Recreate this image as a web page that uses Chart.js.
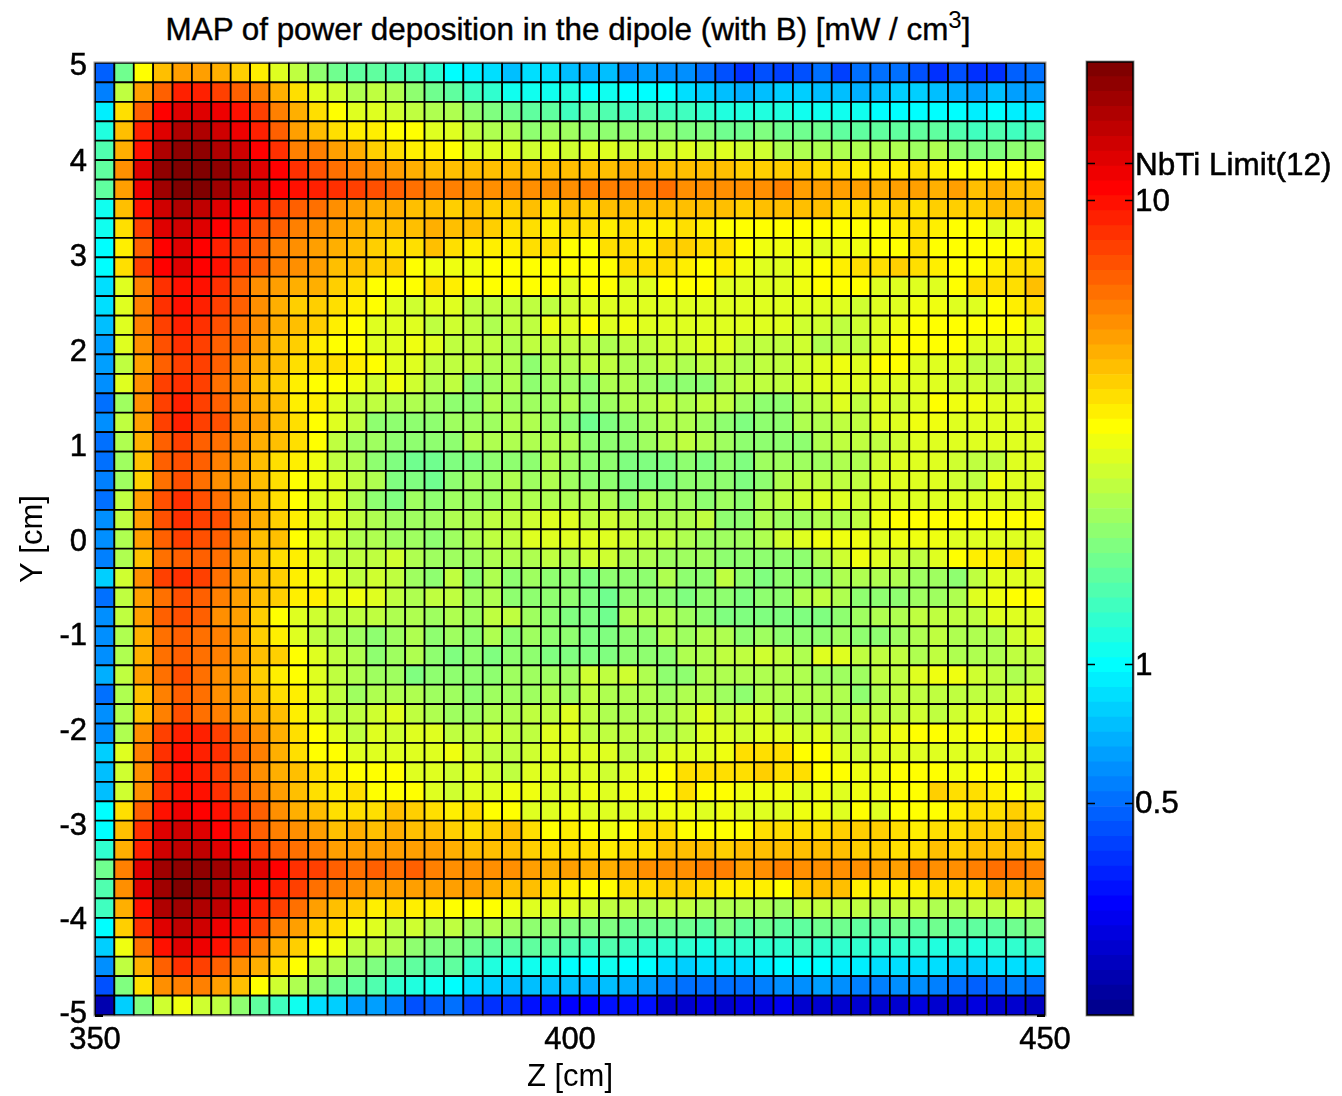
<!DOCTYPE html>
<html>
<head>
<meta charset="utf-8">
<title>MAP of power deposition</title>
<script src="https://cdn.jsdelivr.net/npm/chart.js@4"></script>
<style>
    body { margin: 0; background: #fff; width: 1342px; height: 1096px; overflow: hidden; position: relative; }
    canvas { position: absolute; top: 0; left: 0; }
    .holder { position: absolute; top: 0; height: 1096px; }
    #title { position: absolute; left: 0; width: 1136px; top: 12px; text-align: center; color: #000;
             font: 31.4px "Liberation Sans", Arial, sans-serif; white-space: nowrap; -webkit-text-stroke: 0.4px #000; }
    #title sup { font-size: 24px; line-height: 0; vertical-align: 12px; -webkit-text-stroke: 0; }
</style>
</head>
<body>
<div id="title">MAP of power deposition in the dipole (with B) [mW / cm<sup>3</sup>]</div>
<div class="holder" style="left:0;width:1342px">
    <canvas id="mapCanvas"></canvas>
</div>
<div class="holder" style="left:1040px;width:302px">
    <canvas id="barCanvas"></canvas>
</div>
<script>
// axis ticks
const zTicks = [350, 400, 450];
const yTicks = [-5, -4, -3, -2, -1, 0, 1, 2, 3, 4, 5];
const colorbarTicks = [0.5, 1, 10, 12];
const colorbarLabels = ['0.5', '1', '10', 'NbTi Limit(12)'];

// colorbar band edges, mW / cm3 (log spaced in the original)
const bandEdges = [.175,.1884,.2029,.2184,.2352,.2532,.2727,.2936,.3161,.3404,.3665,.3946,.4249,.4574,.4925,.5303,.571,.6148,.662,.7127,.7674,.8263,.8896,.9578,1.031,1.11,1.196,1.287,1.386,1.492,1.607,1.73,1.863,2.006,2.16,2.325,2.504,2.696,2.902,3.125,3.365,3.623,3.901,4.2,4.522,4.869,5.243,5.645,6.078,6.544,7.046,7.586,8.168,8.795,9.47,10.2,10.98,11.82,12.73,13.7,14.76,15.89,17.11,18.42,19.8];

// power per cell, top row first, Z = 350 on the left
const row01 = [.47,1.7,3.2,4.3,5,5,4.6,4,3.5,2.8,2.4,2,1.7,1.55,1.55,1.4,1.4,1.2,1,.9,.83,.75,.83,.83,.75,.68,.72,.6,.65,.6,.58,.52,.43,.38,.43,.4,.43,.5,.42,.5,.52,.52,.45,.38,.43,.38,.38,.47,.52];
const row02 = [.55,2.4,5,7,9,9,8,7,5.8,4.6,3.7,2.8,2.6,2.2,2.4,2.2,1.9,1.7,1.6,1.35,1.2,1.05,1.1,1.1,1.15,1.02,1.05,.98,1.02,.98,.85,.78,.75,.68,.75,.78,.8,.75,.72,.68,.75,.78,.8,.75,.7,.65,.75,.65,.62];
const row03 = [.92,3.7,7,10.7,12.4,12.6,11.8,10,8,5.8,4.6,3.9,3.2,2.9,2.8,2.6,2.4,2.2,2.3,1.9,1.75,1.65,1.55,1.5,1.35,1.5,1.45,1.35,1.4,1.35,1.3,1.2,1.12,1.15,1.18,1.12,1.1,1.1,1.08,1.05,1.03,1.03,1.03,1.03,.97,.9,.98,.9,.9];
const row04 = [1.15,4.3,9,12.4,15,15,13,11.5,9,6.7,5.2,4.5,3.9,3.5,3.5,3.2,3.2,2.9,2.7,2.4,2.3,2.2,1.9,2.1,2.1,2,1.95,2,2,2,1.85,1.8,1.7,1.7,1.75,1.7,1.65,1.65,1.6,1.6,1.55,1.55,1.55,1.55,1.4,1.3,1.4,1.3,1.4];
const row05 = [1.4,4.8,10,15,17.5,17.5,15,13,10.7,8.5,6,5.7,5,4.6,4.1,3.9,3.6,3.6,3.2,2.9,2.9,2.7,2.6,2.7,2.6,2.7,2.7,2.6,2.6,2.6,2.7,2.6,2.75,2.55,2.6,2.3,2.25,2.3,2.2,2.2,2.25,2.2,2.1,2.2,2,1.85,1.8,2,1.95];
const row06 = [1.6,5.6,12.6,17.5,19,19,17.5,15,12.4,10.5,8.5,7.3,6.3,6,5.6,5,4.7,4.4,4.4,4.4,4.4,4.2,4.2,4.2,4.4,4.4,4.3,4.6,4.7,4.4,4.5,4.3,4.2,4.1,4.1,4,4,3.9,3.8,3.6,3.6,3.6,3.8,3.6,3.3,3.2,3.2,3.3,3.2];
const row07 = [1.6,5,11.8,16,18.8,19.4,16.5,14.4,12.6,10.8,9.8,9.2,8.4,7.8,7.2,6.6,6.1,6,5.7,5.4,5.3,5.5,5.6,5.5,5.6,5.8,5.8,6,6,6.1,5.6,5.5,5.5,5.6,5.6,5.7,5,5.2,5,4.9,4.8,5,5.2,4.7,5,4.4,4.8,4.5,4.4];
const row08 = [1.05,4.4,9.5,13.5,15,14.4,12.5,10.7,9.3,7.8,6.6,6.1,5.6,5,4.8,4.8,4.5,4.3,4.1,4.2,4,4.1,4.2,3.9,4.2,4,4.2,4.3,4.2,4.3,4.3,4.5,4.3,4.1,4.2,4.2,4.3,4.2,3.9,3.8,3.9,4,3.8,4,4.1,4,4.4,4.4,4.2];
const row09 = [1.05,3.9,8,12.4,13,12.4,10.7,9.3,7.2,6.8,6,5.4,5,4.6,4.3,4.5,4.2,4.6,4.2,4.3,4.1,3.9,3.9,3.6,3.7,3.8,3.6,3.7,3.6,3.6,3.7,3.5,3.3,3.3,3.2,3.3,3.3,3.2,3.2,3.3,3.2,3.5,3.7,3.5,3.2,3.2,2.9,3.1,3.1];
const row10 = [.98,3.6,7,10.7,12.4,10.7,9.2,7.9,6.6,6,5.6,5.2,4.8,4.4,4.1,3.9,3.7,4.2,3.9,3.5,3.6,3.5,3.7,3.9,3.3,3.2,3.7,3.7,3.6,4,4,3.7,3.8,3.2,3,3,3,2.9,3,3.1,3.3,3.3,3.8,3.2,3.2,3.3,3.3,3.2,3.6];
const row11 = [1.03,3.9,8,10.7,12.4,10.7,10,8,6.6,5.8,5.4,5,4.5,4.4,4,4,3.2,3.1,3,3,3.2,3.2,3.2,3.2,3.2,3.3,3.2,3.7,3.8,3.7,3.5,3.2,3.6,3.1,2.9,2.9,3,3.3,3.6,3.9,3.8,4,3.8,3.6,3.2,3.2,3.6,3.8,3.9];
const row12 = [.85,2.9,6,8.5,10,10,8.7,7,5.6,5,4.7,4.7,4,3.9,3.2,3.2,3.2,3.7,3.6,3.3,3.2,3.3,3.3,3.3,2.9,3.2,3.2,2.9,2.9,3.2,3.2,3.3,2.9,2.8,2.8,2.9,3.1,3.3,3.2,3.2,2.9,2.8,2.8,2.9,3.2,3.8,3.9,3.9,4.2];
const row13 = [.83,2.7,5.8,8.2,9.5,9,8,6.6,5.3,4.6,4.1,4,3.7,3.5,3.2,2.9,2.6,2.9,2.9,2.5,2.5,2.5,2.5,2.5,2.6,2.8,2.9,2.9,2.9,2.9,2.8,2.8,2.9,2.9,2.9,2.9,2.8,2.8,2.7,2.6,2.8,2.9,3.1,3.1,2.8,2.9,3.2,3.6,3.7];
const row14 = [.73,2.8,5.8,8,8.8,8.4,7.4,6.5,5.4,4.6,4.3,4,3.5,3.2,2.9,2.8,2.7,2.5,2.6,2.5,2.3,2.4,2.5,3,2.7,3.3,2.9,3,2.7,2.7,2.7,2.7,2.7,2.8,2.9,2.7,2.6,2.6,2.5,2.6,2.9,3,3.2,3.3,3.2,3.2,3.2,3.3,2.9];
const row15 = [.62,2.7,5.5,7.2,8.5,7.9,7,6.1,5,4.3,4,3.6,3.2,3.2,2.9,2.7,3,2.7,2.4,2.4,2.4,2.3,2.4,2.4,2.5,2.4,2.2,2.4,2.5,2.6,2.6,2.7,2.7,2.4,2.5,2.4,2.6,2.3,2.4,2.5,2.9,3.2,3.2,3.2,3.2,2.9,2.8,2.8,2.7];
const row16 = [.62,2.5,5.2,7,8,7.8,6.6,5.4,4.6,4.3,3.7,3.7,3.7,3.4,3.2,2.9,2.9,2.5,2.5,2.4,2.2,2.2,2,2.2,2.3,2.4,2.5,2.3,2.3,2.5,2.3,2.5,2.4,2.3,2.4,2.4,2.6,2.7,3.1,2.9,3.2,3.2,2.9,2.8,2.7,2.5,2.5,2.6,2.5];
const row17 = [.6,2.7,5.6,7.8,8.4,7.8,6.4,5.6,4.5,4.1,3.4,3.2,3.2,3,2.6,3,2.6,2.3,2.4,1.95,2.1,2.2,2,2.1,2.1,2,2.2,2.2,2.1,2,2,1.9,2.2,2.5,2.5,2.5,2.6,2.7,2.9,2.7,2.8,2.9,2.9,2.7,2.6,2.6,2.4,2.5,2.5];
const row18 = [.5,2.1,5.3,7.8,9,8,7,5.6,4.6,4.2,3.5,3.6,2.8,2.4,2.5,2.3,2.3,2.1,2,2,2.2,2.1,2.1,2.1,2.2,1.95,2.1,2.3,2.3,2.5,2.3,2.5,2.4,2.1,2,1.9,2.3,2.4,2.7,2.5,2.7,2.6,2.9,3.3,3,3,2.8,2.8,2.7];
const row19 = [.6,2.5,5.2,8,9,8,7.2,5.6,4.9,4.3,3.8,3.3,2.7,2.4,2,1.95,1.9,1.95,2.1,2.1,2.1,2.2,2.2,2.1,2,1.7,1.8,2,2.1,2.2,2.2,2.1,1.9,1.8,1.9,2,2.2,2.2,2.4,2.5,2.9,2.9,3,3,2.9,2.9,2.8,2.9,2.9];
const row20 = [.53,2.2,4.7,6.6,7.6,6.8,6.4,5.3,4.7,4.3,3.8,3.2,2.4,2.1,2.05,2,1.95,1.9,1.95,2.2,2.2,2.3,2.3,2.3,2.2,1.9,2,2,2.1,2.3,2.4,2.2,2.1,1.9,2,2,2,2.3,2.4,2.5,2.5,2.6,2.8,2.8,2.7,2.7,2.7,2.9,2.9];
const row21 = [.53,2.1,4.5,6.7,7.5,6.8,5.8,5.2,4.3,3.9,3.6,3,2.5,2.2,1.95,1.8,1.7,1.7,1.85,1.75,1.95,2,2,2.2,2.1,1.95,1.95,1.8,1.85,1.75,1.95,1.85,1.9,1.75,2.1,2.1,2.1,2.1,2.2,2.3,2.6,2.7,2.8,2.8,2.6,2.4,2.5,2.7,2.7];
const row22 = [.55,2.1,4,6.1,7.4,6.3,5.6,5,4.4,3.7,3.2,3,2.8,2.4,2.2,1.85,1.85,1.65,2,2.1,2.1,2.2,2.1,2.2,2.1,2,2,1.8,1.75,1.8,2,2,2,1.85,2,2.3,2.4,2.4,2.4,2.5,2.7,2.7,2.8,2.8,2.6,2.5,3.1,2.7,2.7];
const row23 = [.5,2.4,4.9,7.2,8.2,7.4,6.3,5.2,4.4,3.9,3.3,2.7,2.7,2.3,2,1.85,2.1,2,2.1,2.1,2.1,2.3,2.3,2.2,2.3,2.2,2.2,2,2.2,2.1,2.1,2,2.1,1.9,2.2,2.4,2.6,2.7,2.7,2.6,2.7,2.8,2.9,2.8,2.8,2.8,2.8,2.9,2.9];
const row24 = [.58,2.5,5,7.4,8.4,8,7.2,5.6,4.8,4.1,3.5,2.9,2.8,2.4,2.2,2.1,2.1,2.1,2.2,2.3,2.4,2.4,2.6,2.8,2.9,2.4,2.6,2.4,2.2,2.2,2.3,2.4,2,2,2.2,2.1,2.1,2.2,2.3,2.5,3.1,3.3,3.3,3.3,3.2,3.2,3.3,3.3,3.2];
const row25 = [.58,2.3,4.9,7,8,7.3,6.7,5.4,4.5,4.2,3.2,2.7,2.6,2.3,2.2,2.1,2.1,2,2.1,2.2,2.4,2.4,2.7,2.8,2.8,2.9,2.8,2.6,2.5,2.5,2.2,2.1,2.1,2.1,2.3,2.6,2.7,3,3,3,2.9,3,3.1,3.1,2.9,2.9,2.9,2.8,2.8];
const row26 = [.55,2.2,4.3,6.2,7,7,6.3,5.1,4.4,3.9,3.6,2.8,2.5,2.4,2.5,2.6,2.3,2.1,2.1,2.1,2.3,2.2,2.2,2.4,2.3,2.6,2.6,2.3,2.2,2.1,2.1,2.1,2,2,2,2,2,2.3,2.6,3,2.8,2.6,2.5,2.8,3.2,3.5,3.6,3.8,3];
const row27 = [.8,2.6,5.6,8,8.5,7.6,6.2,5.1,4.4,4,3.6,3,2.8,2.5,2.6,2.4,2.1,2,2.4,2,2.2,1.95,2.1,2,2,1.85,1.95,2,2,2.2,2,2,2.4,1.95,1.85,2,2,2,2.2,2.2,2.2,2.2,2.1,2.1,2,2.4,2.7,2.9,2.9];
const row28 = [.52,2.4,4.9,6.4,7.5,6.7,5.9,5,4.4,4,3.6,3.6,2.9,3,2.9,2.4,2.2,2.5,2.5,2.1,2.2,1.95,2,2,1.95,1.75,1.7,1.9,1.9,2,1.8,2,1.95,1.85,1.95,2,2.2,2.5,2.2,2,2,2,2.1,2.1,2.3,2.7,3,3.3,3.3];
const row29 = [.6,2.5,5.1,7,7.2,6.7,5.5,4.9,4.1,3.2,2.9,2.6,2.4,2.5,2.5,2.3,2.3,2.1,2.3,2.1,2.5,2.5,2.1,2,1.8,1.8,1.7,2.2,2.3,2.2,2.1,2,1.85,1.8,1.8,1.85,1.8,1.8,2,2.1,2.2,2.3,2.4,2.5,2.5,2.4,2.7,2.8,2.9];
const row30 = [.6,2.3,4.7,6.4,7,6.3,5.7,5,4.1,3.6,2.9,2.4,2.3,2.1,2,2.1,2.2,2,2.1,2,2.3,2,2.1,2,1.95,1.85,1.85,2,2,2.2,2.1,2.2,2.2,2,2.1,1.9,1.9,2,2.05,2,2,2.1,2.3,2.4,2.3,2.3,2.3,2.6,2.7];
const row31 = [.6,2.2,4.8,6.4,7,6.5,5.8,5.1,4.5,4.1,3.2,2.8,2.4,2.2,2,2.05,2.2,2,1.85,2,1.85,1.95,2,1.8,1.75,1.75,1.85,2,2,2,2.2,2.3,2.5,2.5,2.6,2.5,2.3,2.9,2.7,2.5,2.5,2.4,2.3,2.4,2.3,2.2,2.2,2.4,2.4];
const row32 = [.68,2.5,5,6.3,7.5,6.4,5.6,4.9,4.1,3.6,3.2,2.8,2.4,2.2,2.1,2.05,1.85,1.95,2,2,2,2.1,2.1,2.1,2.1,2.6,2.4,2.6,2.2,1.95,1.9,2.2,2.3,2.3,2.3,2.3,2.2,2.1,2.1,2.1,2.4,2.5,2.7,3,3.1,2.6,2.4,2.3,2.4];
const row33 = [.52,2.2,4.4,5.9,7,6.3,5.6,4.9,4.4,3.8,3.4,2.9,2.4,2.1,2.2,2.2,2.3,2.1,2.1,1.95,2.1,2.1,2.1,2.2,2.1,2.5,2.3,2.3,2.2,2.1,2.2,2.3,2.1,1.95,2.2,2.3,2.3,2.3,2.2,1.95,2.2,2.4,2.4,2.4,2.5,2.5,2.5,2.6,2.9];
const row34 = [.58,2.2,4.2,6,7.4,6.4,6,5.2,4.8,4.3,3.6,2.9,2.5,2.4,2.6,2.8,2.4,2.2,2.1,2.1,2.3,2.3,2.4,2.5,2.7,2.5,2.2,2.3,2.3,2.2,2.4,2.9,2.4,2.6,2.6,2.3,2.2,2.2,2.3,2.4,2.4,2.4,2.6,2.5,2.6,2.7,2.8,3,3.2];
const row35 = [.58,2.3,5.5,7.8,9.2,8.8,7.8,6.1,5.4,4.7,3.9,3.2,2.9,2.5,2.8,2.6,2.7,2.8,2.4,2.4,2.6,2.4,2.5,2.7,2.7,2.5,2.4,2.5,2.4,2.3,2.5,2.8,2.8,2.6,2.7,2.7,2.6,2.7,2.5,2.5,2.9,3.1,3.2,3.2,3,3.2,3.3,3.5,3.7];
const row36 = [.8,2.7,5.7,8.5,10,9.3,8.3,7,5.8,4.7,3.9,3.2,3.2,2.8,2.9,2.8,2.9,2.9,3,2.6,2.5,2.5,2.6,2.8,2.9,2.8,2.7,2.4,2.5,2.7,2.8,2.9,3,3.8,3.8,3.7,3.3,3.2,2.9,2.6,2.7,2.8,2.9,2.8,2.9,2.8,2.7,2.7,2.8];
const row37 = [.75,2.6,5.5,8.2,9.5,9.2,8,6.8,5.6,4.8,4.2,3.9,3.6,3.2,3.2,3.2,2.9,2.8,2.6,2.7,2.6,2.5,2.7,2.7,2.9,2.9,2.6,2.9,3,3.3,3.7,3.8,3.9,3.9,4.1,3.9,3.8,3.3,3.2,3,3,3.2,3.2,3.3,3.1,3.3,3.2,3,2.9];
const row38 = [.73,2.6,5.5,8.5,9.8,10,8.5,7,5.7,5,4.2,3.9,3.6,3.8,3.2,3.2,3.2,2.8,2.6,2.7,2.9,3,3,2.7,2.9,3,2.8,3,3.1,3.3,3.8,3.2,3.2,3,3,3,2.9,3,2.9,3,3,3.2,3.3,4,3.8,3.7,3.4,3.3,2.9];
const row39 = [.98,3.8,6.8,9.5,11.5,10.5,9.5,8.2,6.6,5.6,4.6,4.4,3.8,3.9,3.8,4.2,4.1,3.9,3.6,3.7,3.3,3.2,2.9,2.8,3,2.9,2.8,2.8,2.9,3,3.1,2.9,3,2.7,2.9,2.9,3,3,2.8,3.2,2.9,3.2,3.3,3.2,3.4,3.7,3.8,4,3.9];
const row40 = [.98,4.3,8.5,12.2,13.5,12.3,10.7,9.3,6.8,6,5.3,4.9,4.4,4.6,4.4,4.8,4.3,4.2,4,3.9,4,4.2,3.9,3.2,3.4,3.3,3.1,3.3,3.7,3.8,3.3,3.3,3.2,3.2,3.7,3.7,3.8,3.8,4.1,4.1,4.1,3.7,3.5,3.7,3.9,4.1,4,4.2,4.1];
const row41 = [1.2,4.8,9,13,14.7,14,12.4,10.7,8,7,6.2,5.7,5.1,5,5.1,5.1,4.9,4.9,4.7,4.4,4.3,4.4,4.1,3.8,3.8,3.7,3.6,3.8,3.9,4.2,4.3,4.2,4.1,4.2,4.3,4.4,4.3,4.4,4.3,4.1,4,3.8,3.8,4.5,4.1,4.2,4.4,4.2,4.1];
const row42 = [1.65,5.8,12,16.7,18.3,18.3,16,14.6,12.3,10.5,8.5,7.8,6.7,6.5,6.6,6.5,6.8,6,5.6,5.6,5.3,5.3,5.2,4.8,5,4.6,4.8,5.2,5.6,5.6,5.5,5.8,5.8,5,5.4,5.7,5.6,5.6,5.3,5.5,5.2,5.1,5.7,5.6,5.5,6,6.2,6.1,5.8];
const row43 = [1.4,5.5,12.4,16.5,19.4,18,15.5,12.2,10.7,9.4,7.8,6.4,5.8,5.3,4.9,5,5,4.9,5.1,4.9,4.8,4.5,4.3,3.8,3.6,3.2,3.2,3.8,3.8,4.1,4,3.7,3.4,3.5,3.4,3.3,4.1,4.2,4.2,3.6,3.5,3.6,3.6,3.8,3.9,3.8,4.6,4.5,4.7];
const row44 = [1.35,4.6,10,15,16.7,15.5,14,11.5,9,7.8,6.2,5,4.3,4,3.6,3.8,3.5,3.4,3.3,3.2,3.2,3,2.9,2.7,2.7,2.6,2.5,2.5,2.3,2.5,2.4,2.3,2.2,2.3,2.2,2.1,2.4,2.5,2.4,2.4,2.3,2.4,2.4,2.3,2.2,2.4,2.5,2.6,2.5];
const row45 = [.98,4.1,8.5,12.5,14.5,13,11.7,9.8,7.8,5.8,5,4.1,3.7,3.1,2.8,2.5,2.6,2.3,2.4,2.1,2.2,2.1,2,1.9,1.8,1.8,1.8,1.7,1.65,1.7,1.65,1.55,1.75,1.6,1.7,1.55,1.6,1.7,1.65,1.6,1.5,1.65,1.55,1.65,1.55,1.6,1.6,1.7,1.8];
const row46 = [.82,3,6.4,9.5,12,11.8,9.5,7.8,5.8,4.8,4,3.2,3,2.5,2.4,2.2,2,1.85,1.85,1.65,1.6,1.5,1.6,1.55,1.4,1.3,1.4,1.3,1.25,1.2,1.2,1.15,1.25,1.2,1.2,1.2,1.3,1.2,1.2,1.25,1.2,1.2,1.2,1.15,1.2,1.15,1.2,1.25,1.35];
const row47 = [.6,2.4,4.7,7,8.5,8.1,7,5.6,4.7,3.9,3.2,2.5,2.3,2,1.85,1.7,1.6,1.45,1.5,1.25,1.15,1.1,1.1,1.1,1,1.03,1.1,1,.97,.85,.78,.83,.87,.85,.9,.98,.98,1.02,.93,.92,.87,.85,.87,.87,.82,.8,.86,.88,.85];
const row48 = [.43,1.75,3.8,5.3,6,6,5.1,4.5,3.3,2.6,2.3,2,1.7,1.5,1.45,1.25,1.15,1.05,.98,.87,.78,.76,.72,.73,.72,.68,.72,.7,.66,.55,.53,.52,.53,.53,.55,.58,.58,.62,.6,.57,.56,.58,.59,.57,.52,.46,.52,.55,.5];
const row49 = [.215,.8,1.85,2.6,2.95,2.6,2.4,2,1.6,1.3,1.05,.85,.78,.65,.63,.57,.45,.49,.5,.42,.38,.38,.34,.33,.3,.3,.32,.34,.33,.25,.25,.26,.25,.26,.26,.28,.25,.25,.25,.25,.25,.25,.27,.25,.24,.26,.25,.24,.225];

const powerRows = [row01,row02,row03,row04,row05,row06,row07,row08,row09,row10,row11,row12,row13,row14,row15,row16,row17,row18,row19,row20,row21,row22,row23,row24,row25,row26,row27,row28,row29,row30,row31,row32,row33,row34,row35,row36,row37,row38,row39,row40,row41,row42,row43,row44,row45,row46,row47,row48,row49];

const FONT = '"Liberation Sans", Arial, sans-serif';
const tickFont = { family: FONT, size: 31 };

// matlab jet, 64 levels
function jet(i) {
    const tri = (up, down) => Math.max(0, Math.min(1, (i - up) / 16, (down - i) / 16));
    const c = v => Math.round(v * 255);
    return `rgb(${c(tri(23, 71))},${c(tri(7, 55))},${c(tri(-9, 39))})`;
}

function powerColor(v) {
    let i = 0;
    while (i < 63 && v >= bandEdges[i + 1]) i++;
    return jet(i);
}

// cell centres
const cellPoints = [];
const dz = (zTicks[2] - zTicks[0]) / powerRows[0].length;
const dy = (yTicks[10] - yTicks[0]) / powerRows.length;
powerRows.forEach((row, r) => {
    row.forEach((v, c) => {
        cellPoints.push({ x: zTicks[0] + (c + 0.5) * dz, y: yTicks[10] - (r + 0.5) * dy, v: v });
    });
});

// the original labels do not sit exactly on their ticks
const labelNudge = {
    id: 'labelNudge',
    afterLayout(chart, args, opts) {
        chart.scales.y.getLabelItems().forEach((item, i) => { item.options.translation[1] += opts.dy[i]; });
    }
};

// grey frame and the few ticks that show past the cells
const mapFrame = {
    id: 'mapFrame',
    afterDatasetsDraw(chart) {
        const { ctx, chartArea: a } = chart;
        ctx.save();
        ctx.strokeStyle = '#999';
        ctx.lineWidth = 1;
        ctx.strokeRect(a.left - 1, a.top - 1, a.right - a.left + 2, a.bottom - a.top + 2);
        ctx.strokeStyle = '#000';
        ctx.lineWidth = 2;
        ctx.beginPath();
        ctx.moveTo(a.left, a.bottom + 1); ctx.lineTo(a.left + 8, a.bottom + 1);
        ctx.moveTo(a.right - 8, a.bottom + 1); ctx.lineTo(a.right, a.bottom + 1);
        ctx.stroke();
        ctx.restore();
    }
};

new Chart(document.getElementById('mapCanvas'), {
    type: 'scatter',
    data: {
        datasets: [{
            data: cellPoints,
            pointStyle: 'rect',
            clip: false,
            pointRadius: ctx => {
                const x = ctx.chart.scales.x;
                return Math.abs(x.getPixelForValue(zTicks[0] + dz) - x.getPixelForValue(zTicks[0])) / Math.SQRT2;
            },
            pointBackgroundColor: ctx => ctx.raw ? powerColor(ctx.raw.v) : '#000',
            pointBorderColor: '#000',
            pointBorderWidth: 1.7
        }]
    },
    plugins: [labelNudge, mapFrame],
    options: {
        responsive: true,
        maintainAspectRatio: false,
        animation: false,
        events: [],
        layout: { padding: { left: 0, top: 63, right: 297, bottom: 0 } },
        plugins: {
            legend: { display: false },
            tooltip: { enabled: false },
            labelNudge: { dy: [-1, 1, 2, 2, 2, 3, 4, 4, 4, 4, 3] }
        },
        scales: {
            x: {
                type: 'linear', min: 350, max: 450,
                afterFit: s => { s.height = 81; },
                afterBuildTicks: s => { s.ticks = zTicks.map(v => ({ value: v })); },
                grid: { display: false, drawTicks: false },
                border: { display: false },
                ticks: { color: '#000', padding: 7, maxRotation: 0, font: tickFont, textStrokeColor: '#000', textStrokeWidth: 0.5 },
                title: { display: true, text: 'Z [cm]', color: '#000', padding: 0, font: tickFont }
            },
            y: {
                type: 'linear', min: -5, max: 5,
                afterFit: s => { s.width = 95; },
                afterBuildTicks: s => { s.ticks = yTicks.map(v => ({ value: v })); },
                grid: { display: false, drawTicks: false },
                border: { display: false },
                ticks: { color: '#000', padding: 8, font: tickFont, textStrokeColor: '#000', textStrokeWidth: 0.5 },
                title: { display: true, text: 'Y [cm]', color: '#000', padding: { top: 15, bottom: 0 }, font: tickFont }
            }
        }
    }
});

// colorbar, one floating bar per band
const barDatasets = [];
for (let i = 0; i < 64; i++) {
    barDatasets.push({ data: [[bandEdges[i], bandEdges[i + 1]]], backgroundColor: jet(i), borderWidth: 0 });
}

const barFrame = {
    id: 'barFrame',
    afterDatasetsDraw(chart) {
        const { ctx, chartArea: a, scales } = chart;
        ctx.save();
        ctx.strokeStyle = '#999';
        ctx.lineWidth = 1;
        ctx.strokeRect(a.left - 1, a.top - 1, a.right - a.left + 2, a.bottom - a.top + 2);
        ctx.strokeStyle = '#000';
        ctx.lineWidth = 1.5;
        ctx.strokeRect(a.left, a.top, a.right - a.left, a.bottom - a.top);
        ctx.beginPath();
        colorbarTicks.forEach(v => {
            const y = Math.round(scales.y.getPixelForValue(v)) + 0.5;
            ctx.moveTo(a.left, y); ctx.lineTo(a.left + 8, y);
            ctx.moveTo(a.right - 8, y); ctx.lineTo(a.right, y);
        });
        ctx.stroke();
        ctx.restore();
    }
};

new Chart(document.getElementById('barCanvas'), {
    type: 'bar',
    data: { labels: [''], datasets: barDatasets },
    plugins: [barFrame, labelNudge],
    options: {
        responsive: true,
        maintainAspectRatio: false,
        animation: false,
        events: [],
        barPercentage: 1,
        categoryPercentage: 1,
        layout: { padding: { left: 47, top: 62, right: 0, bottom: 81 } },
        plugins: {
            legend: { display: false },
            tooltip: { enabled: false },
            labelNudge: { dy: [1, 3, 3, 3] }
        },
        scales: {
            x: { display: false, stacked: true },
            y: {
                type: 'logarithmic',
                position: 'right',
                stacked: false,
                min: bandEdges[0],
                max: bandEdges[64],
                afterFit: s => { s.width = 209; },
                afterBuildTicks: s => { s.ticks = colorbarTicks.map(v => ({ value: v })); },
                grid: { display: false, drawTicks: false },
                border: { display: false },
                ticks: {
                    color: '#000',
                    padding: 2,
                    autoSkip: false,
                    font: { family: FONT, size: 31.5 },
                    textStrokeColor: '#000',
                    textStrokeWidth: 0.5,
                    callback: v => colorbarLabels[colorbarTicks.indexOf(v)]
                }
            }
        }
    }
});
</script>
</body>
</html>
